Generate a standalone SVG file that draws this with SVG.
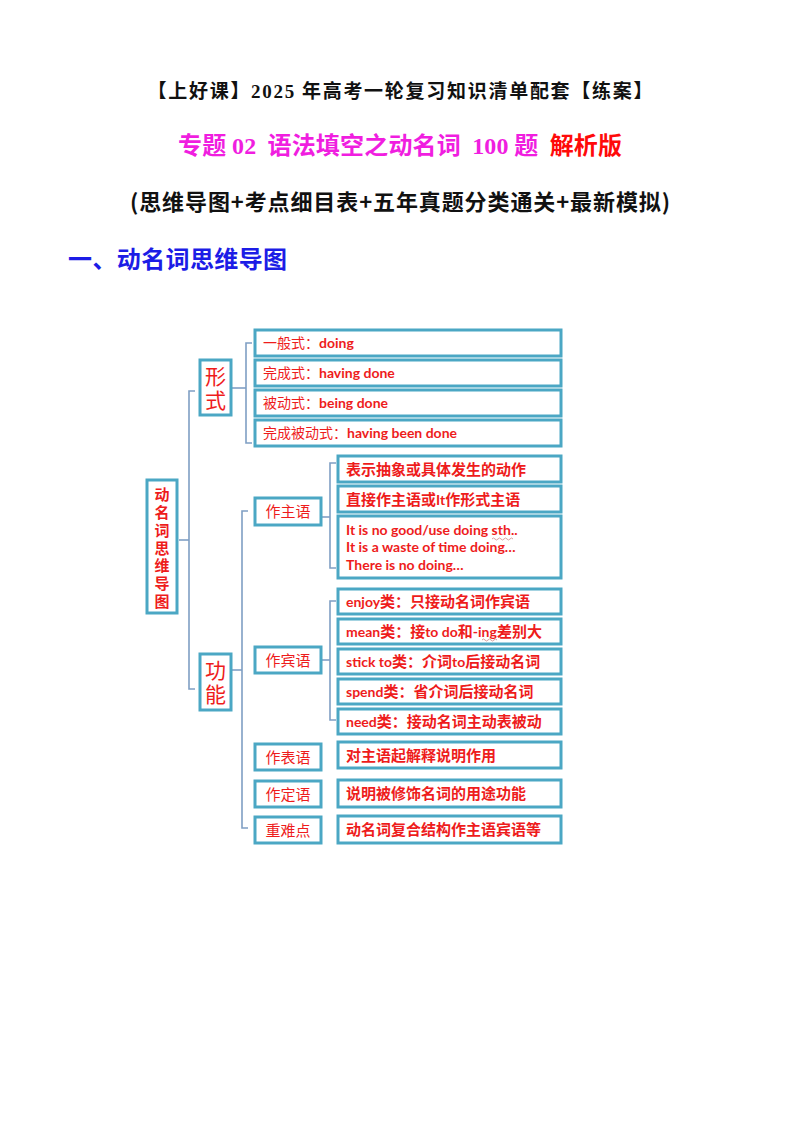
<svg xmlns="http://www.w3.org/2000/svg" width="800" height="1132" viewBox="0 0 800 1132">
<style>
.bx{fill:#fff;stroke:#4ba7c4;stroke-width:3}
.ln{fill:none;stroke:#7f9fc4;stroke-width:1.6}
.cn{font-family:"Noto Sans CJK SC",sans-serif;fill:#ee1c1c}
.en{font-family:Lato,"Liberation Sans","Noto Sans CJK SC",sans-serif;font-weight:bold;fill:#ee1c1c}
.t{font-family:"Noto Sans CJK SC",sans-serif;font-weight:bold}
.sr{font-family:"Liberation Serif",serif;font-weight:bold}
.wv{fill:none;stroke:#d9a0a0;stroke-width:1}
.vt{writing-mode:vertical-rl;text-orientation:upright}
</style>
<rect width="800" height="1132" fill="#fff"/>
<g id="titles">
<text x="400" y="98" text-anchor="middle" class="t" font-size="19" fill="#111" textLength="505" lengthAdjust="spacing">【上好课】<tspan class="sr">2025</tspan> 年高考一轮复习知识清单配套【练案】</text>
<text x="400" y="154" text-anchor="middle" class="t" font-size="24" fill="#f01ee0" textLength="444" lengthAdjust="spacing" xml:space="preserve">专题 <tspan class="sr">02</tspan>  语法填空之动名词  <tspan class="sr">100</tspan> 题  <tspan fill="#ff0a0a">解析版</tspan></text>
<text x="400" y="210" text-anchor="middle" class="t" font-size="22" fill="#111" textLength="540" lengthAdjust="spacing">(思维导图+考点细目表+五年真题分类通关+最新模拟)</text>
<text x="68" y="268" class="t" font-size="24" fill="#1c1ce6" textLength="219" lengthAdjust="spacing">一、动名词思维导图</text>
</g>
<g id="connectors">
<path class="ln" d="M179,540 H189"/>
<path class="ln" d="M195,391 H189 V689 H195"/>
<path class="ln" d="M231,388 H246"/>
<path class="ln" d="M252,343 H246 V443 H252"/>
<path class="ln" d="M231,670 H242"/>
<path class="ln" d="M248,511 H242 V828 H248"/>
<path class="ln" d="M321,517 H330"/>
<path class="ln" d="M336,463 H330 V568 H336"/>
<path class="ln" d="M321,660 H330"/>
<path class="ln" d="M336,601 H330 V720 H336"/>
</g>
<g id="root">
<rect class="bx" x="147" y="480" width="30" height="133"/>
<text class="cn vt" x="162" y="487" font-size="15" font-weight="bold" letter-spacing="2.8">动名词思维导图</text>
</g>
<g id="xingshi">
<rect class="bx" x="200" y="360" width="31" height="55"/>
<text class="cn vt" x="215.5" y="366" font-size="21" letter-spacing="3">形式</text>
</g>
<g id="gongneng">
<rect class="bx" x="200" y="654" width="31" height="56"/>
<text class="cn vt" x="215.5" y="659.5" font-size="21" letter-spacing="3">功能</text>
</g>
<g id="form1">
<rect class="bx" x="255" y="330" width="306" height="26"/>
<text x="263" y="348" font-size="14"><tspan class="cn">一般式：</tspan><tspan class="en">doing</tspan></text>
</g>
<g id="form2">
<rect class="bx" x="255" y="360" width="306" height="26"/>
<text x="263" y="378" font-size="14"><tspan class="cn">完成式：</tspan><tspan class="en">having done</tspan></text>
</g>
<g id="form3">
<rect class="bx" x="255" y="390" width="306" height="26"/>
<text x="263" y="408" font-size="14"><tspan class="cn">被动式：</tspan><tspan class="en">being done</tspan></text>
</g>
<g id="form4">
<rect class="bx" x="255" y="420" width="306" height="26"/>
<text x="263" y="438" font-size="14"><tspan class="cn">完成被动式：</tspan><tspan class="en">having been done</tspan></text>
</g>
<g id="zuozhuyu">
<rect class="bx" x="255" y="498" width="66" height="27"/>
<text class="cn" x="288" y="517" font-size="15" text-anchor="middle">作主语</text>
</g>
<g id="zhu1">
<rect class="bx" x="338" y="456" width="223" height="26"/>
<text class="cn" x="346" y="474.5" font-size="15" font-weight="bold">表示抽象或具体发生的动作</text>
</g>
<g id="zhu2">
<rect class="bx" x="338" y="486" width="223" height="26"/>
<text x="346" y="504.5" font-size="15"><tspan class="cn" font-weight="bold">直接作主语或</tspan><tspan class="en" font-size="14">It</tspan><tspan class="cn" font-weight="bold">作形式主语</tspan></text>
</g>
<g id="zhu3">
<rect class="bx" x="338" y="516" width="223" height="62"/>
<text class="en" font-size="14"><tspan x="346" y="535">It is no good/use doing sth..</tspan><tspan x="346" y="552">It is a waste of time doing…</tspan><tspan x="346" y="570">There is no doing…</tspan></text>
<path class="wv" d="M492,539 q1.5,-2 3,0 t3,0 t3,0 t3,0 t3,0 t3,0 t3,0"/>
</g>
<g id="zuobinyu">
<rect class="bx" x="255" y="647" width="66" height="26"/>
<text class="cn" x="288" y="665.5" font-size="15" text-anchor="middle">作宾语</text>
</g>
<g id="bin1">
<rect class="bx" x="338" y="589" width="223" height="25"/>
<text x="346" y="607" font-size="15"><tspan class="en" font-size="14">enjoy</tspan><tspan class="cn" font-weight="bold">类：只接动名词作宾语</tspan></text>
</g>
<g id="bin2">
<rect class="bx" x="338" y="619" width="223" height="25"/>
<text x="346" y="637" font-size="15"><tspan class="en" font-size="14">mean</tspan><tspan class="cn" font-weight="bold">类：接</tspan><tspan class="en" font-size="14">to do</tspan><tspan class="cn" font-weight="bold">和</tspan><tspan class="en" font-size="14">-ing</tspan><tspan class="cn" font-weight="bold">差别大</tspan></text>
<path class="wv" d="M482,640 q1.5,-2 3,0 t3,0 t3,0 t3,0 t3,0"/>
</g>
<g id="bin3">
<rect class="bx" x="338" y="649" width="223" height="25"/>
<text x="346" y="667" font-size="15"><tspan class="en" font-size="14">stick to</tspan><tspan class="cn" font-weight="bold">类：介词</tspan><tspan class="en" font-size="14">to</tspan><tspan class="cn" font-weight="bold">后接动名词</tspan></text>
</g>
<g id="bin4">
<rect class="bx" x="338" y="679" width="223" height="25"/>
<text x="346" y="697" font-size="15"><tspan class="en" font-size="14">spend</tspan><tspan class="cn" font-weight="bold">类：省介词后接动名词</tspan></text>
</g>
<g id="bin5">
<rect class="bx" x="338" y="709" width="223" height="25"/>
<text x="346" y="727" font-size="15"><tspan class="en" font-size="14">need</tspan><tspan class="cn" font-weight="bold">类：接动名词主动表被动</tspan></text>
</g>
<g id="zuobiaoyu">
<rect class="bx" x="255" y="744" width="66" height="26"/>
<text class="cn" x="288" y="762.5" font-size="15" text-anchor="middle">作表语</text>
</g>
<g id="biao1">
<rect class="bx" x="338" y="742" width="223" height="26"/>
<text class="cn" x="346" y="760.5" font-size="15" font-weight="bold">对主语起解释说明作用</text>
</g>
<g id="zuodingyu">
<rect class="bx" x="255" y="781" width="66" height="26"/>
<text class="cn" x="288" y="799.5" font-size="15" text-anchor="middle">作定语</text>
</g>
<g id="ding1">
<rect class="bx" x="338" y="780" width="223" height="27"/>
<text class="cn" x="346" y="799" font-size="15" font-weight="bold">说明被修饰名词的用途功能</text>
</g>
<g id="zhongnandian">
<rect class="bx" x="255" y="817" width="66" height="26"/>
<text class="cn" x="288" y="835.5" font-size="15" text-anchor="middle">重难点</text>
</g>
<g id="zhong1">
<rect class="bx" x="338" y="816" width="223" height="27"/>
<text class="cn" x="346" y="835" font-size="15" font-weight="bold">动名词复合结构作主语宾语等</text>
</g>
</svg>
